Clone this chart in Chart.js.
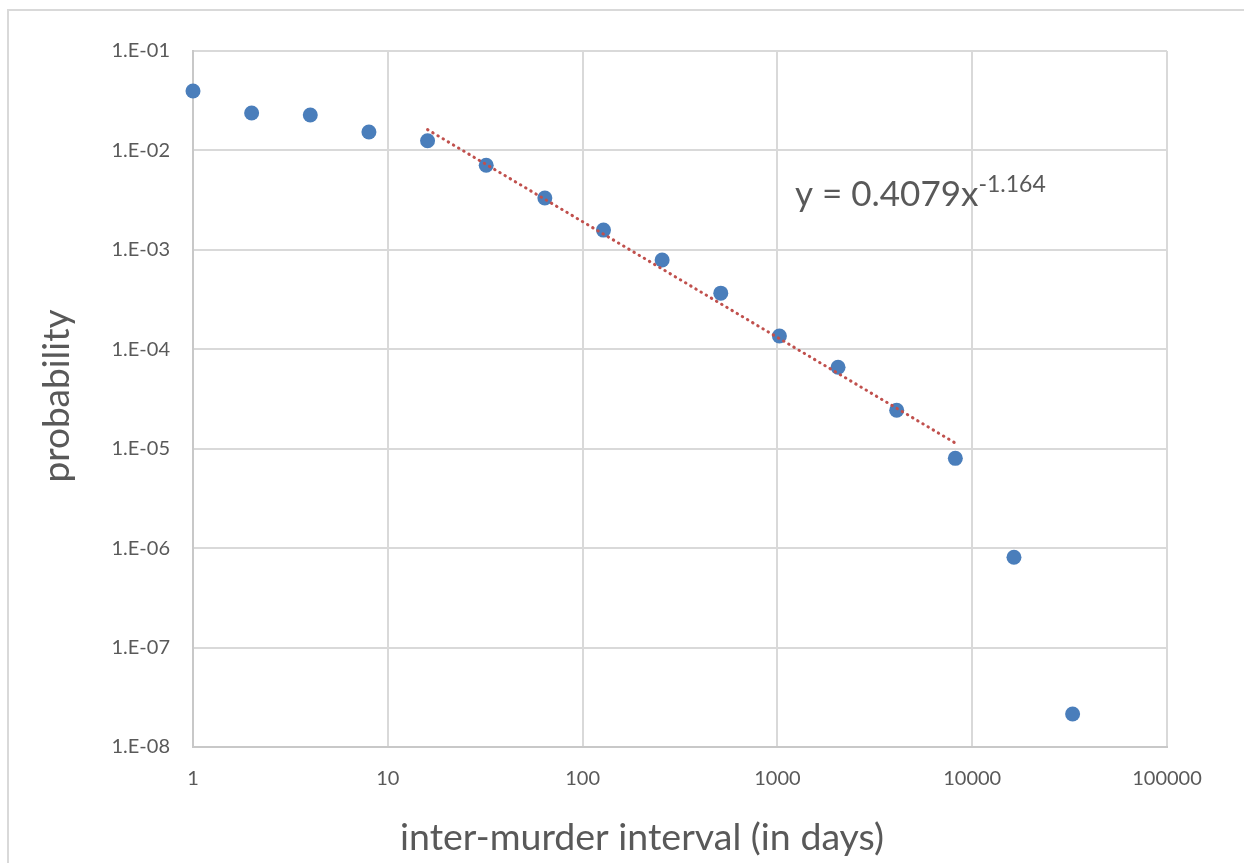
<!DOCTYPE html>
<html><head><meta charset="utf-8">
<script src="https://cdn.jsdelivr.net/npm/chart.js@4.4.1/dist/chart.umd.min.js"></script>
<style>html,body{margin:0;padding:0;background:#fff;overflow:hidden}#wrap{position:relative;width:1244px;height:863px}</style>
</head><body><div id="wrap"><canvas id="c" width="1244" height="863"></canvas></div>
<script>
const intervals = [1, 2, 4, 8, 16, 32, 64, 128, 256, 512, 1024, 2048, 4096, 8192, 16384, 32768];
const probabilities = [0.0396, 0.0238, 0.0227, 0.0153, 0.0125, 0.0071, 0.00332, 0.00158, 0.00079, 0.000367, 0.000136, 0.000066, 0.0000244, 0.0000080, 0.00000081, 0.0000000215];
const trendX = [16, 8192];
const trendY = [0.0162, 0.0000114];
const xTicks = [1, 10, 100, 1000, 10000, 100000];
const xTickLabels = ['1', '10', '100', '1000', '10000', '100000'];
const yTicks = [1e-8, 1e-7, 1e-6, 1e-5, 1e-4, 1e-3, 1e-2, 1e-1];
const yTickLabels = ['1.E-08', '1.E-07', '1.E-06', '1.E-05', '1.E-04', '1.E-03', '1.E-02', '1.E-01'];
const xTitle = 'inter-murder interval (in days)';
const yTitle = 'probability';
const equationText = 'y = 0.4079x';
const equationExp = '-1.164';

const FONT = 'Lato, "Liberation Sans", sans-serif';
const TEXT = '#595959';
const GRID = '#d9d9d9';

const decor = {
  id: 'decor',
  beforeDraw(chart) {
    const ctx = chart.ctx;
    ctx.save();
    ctx.strokeStyle = GRID;
    ctx.lineWidth = 2;
    ctx.strokeRect(8, 10, 1300, 900);
    ctx.restore();
  },
  afterDraw(chart) {
    const ctx = chart.ctx;
    const a = chart.chartArea;
    ctx.save();
    ctx.fillStyle = TEXT;
    // y title
    ctx.font = '37px ' + FONT;
    ctx.textAlign = 'center';
    ctx.textBaseline = 'middle';
    ctx.save();
    ctx.translate(57, (a.top + a.bottom) / 2 - 3);
    ctx.rotate(-Math.PI / 2);
    ctx.fillText(yTitle, 0, 0);
    ctx.restore();
    // x title
    ctx.font = '37.5px ' + FONT;
    ctx.fillText(xTitle, 642, 838);
    // equation
    ctx.textAlign = 'left';
    ctx.textBaseline = 'alphabetic';
    ctx.font = '35px ' + FONT;
    const ex = 795, ey = 206;
    ctx.fillText(equationText, ex, ey);
    const w = ctx.measureText(equationText).width;
    ctx.font = '23px ' + FONT;
    ctx.fillText(equationExp, ex + w, ey - 14);
    ctx.restore();
  }
};

new Chart(document.getElementById('c'), {
  data: {
    datasets: [
      {
        type: 'line',
        label: 'trend',
        order: 0,
        data: trendX.map((x, i) => ({ x, y: trendY[i] })),
        borderColor: '#c0504d',
        borderWidth: 3,
        borderDash: [0.5, 5.5],
        borderCapStyle: 'round',
        pointRadius: 0,
        fill: false
      },
      {
        type: 'scatter',
        label: 'probability',
        order: 1,
        clip: false,
        data: intervals.map((x, i) => ({ x, y: probabilities[i] })),
        backgroundColor: '#4a7ebb',
        borderColor: '#4a7ebb',
        borderWidth: 0,
        pointRadius: 7.5,
        pointHoverRadius: 7.5
      }
    ]
  },
  options: {
    responsive: false,
    animation: false,
    devicePixelRatio: 1,
    layout: { padding: { left: 0, right: 77, top: 51, bottom: 0 } },
    plugins: { legend: { display: false }, tooltip: { enabled: false } },
    scales: {
      x: {
        type: 'logarithmic',
        position: 'bottom',
        min: 1,
        max: 100000,
        afterBuildTicks: s => { s.ticks = xTicks.map(v => ({ value: v })); },
        afterFit: s => { s.height = 116; },
        grid: { color: GRID, lineWidth: 2, drawTicks: false },
        border: { display: true, color: '#c8c8c8', width: 2 },
        ticks: {
          padding: 20,
          color: TEXT,
          font: { family: FONT, size: 20 },
          maxRotation: 0,
          autoSkip: false,
          callback: (v, i) => xTickLabels[i]
        }
      },
      y: {
        type: 'logarithmic',
        position: 'left',
        min: 1e-8,
        max: 1e-1,
        afterBuildTicks: s => { s.ticks = yTicks.map(v => ({ value: v })); },
        afterFit: s => { s.width = 193; },
        grid: { color: GRID, lineWidth: 2, drawTicks: false },
        border: { display: true, color: '#c8c8c8', width: 2 },
        ticks: {
          padding: 23,
          color: TEXT,
          font: { family: FONT, size: 20 },
          autoSkip: false,
          callback: (v, i) => yTickLabels[i]
        }
      }
    }
  },
  plugins: [decor]
});
</script>
</body></html>
